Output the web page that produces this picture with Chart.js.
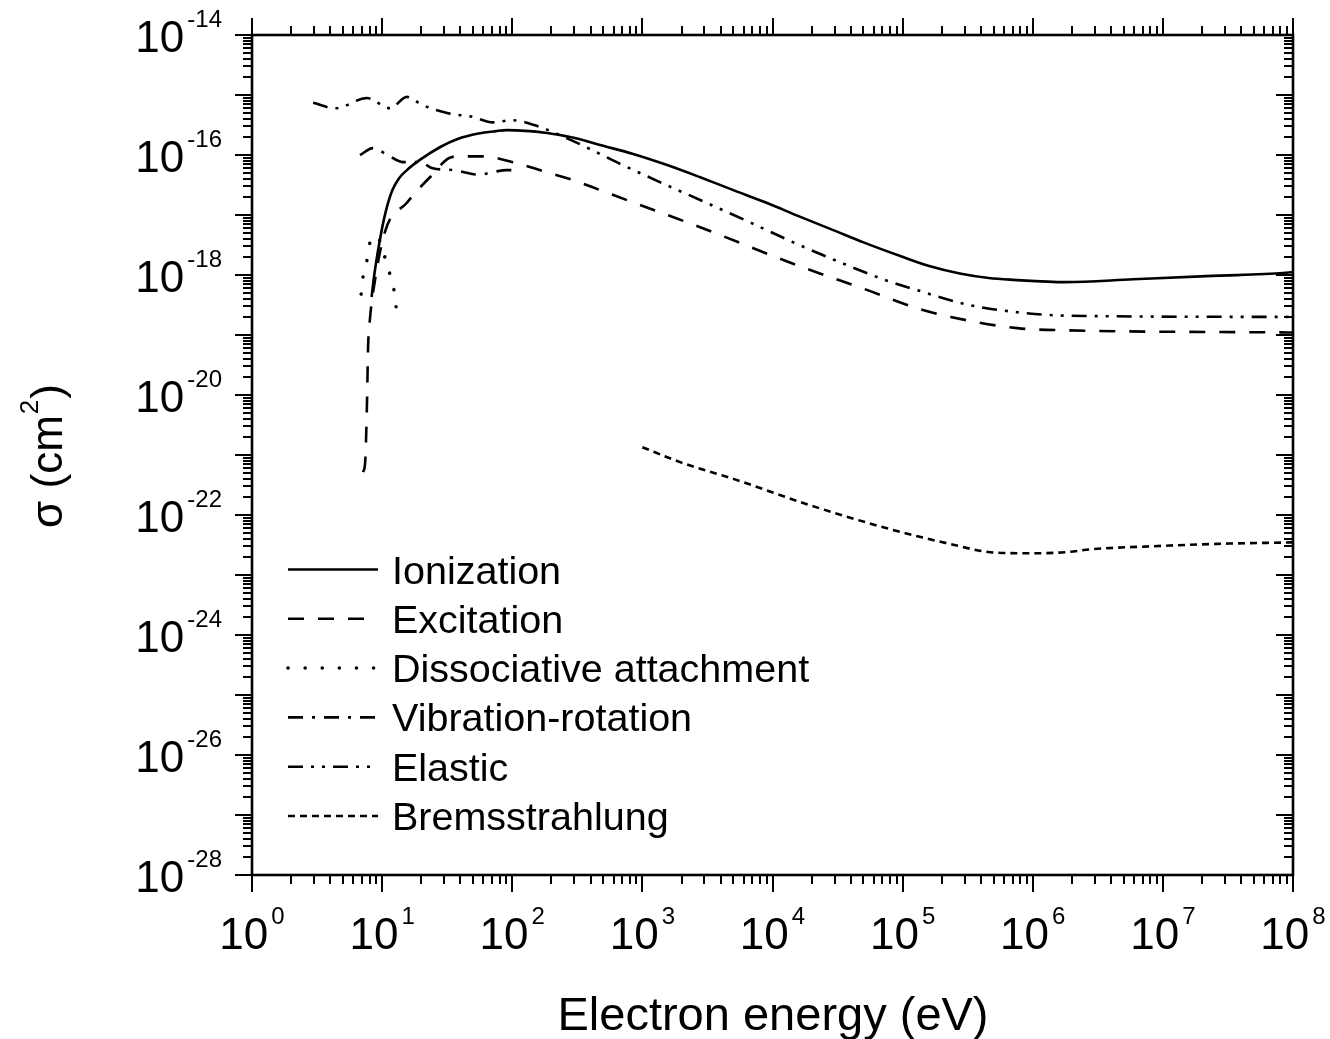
<!DOCTYPE html>
<html>
<head>
<meta charset="utf-8">
<title>Electron cross sections</title>
<script src="https://cdn.jsdelivr.net/npm/chart.js@4.4.1/dist/chart.umd.min.js"></script>
<style>
  html, body { margin: 0; padding: 0; background: #fff; }
  #wrap { width: 1330px; height: 1039px; position: relative; }
</style>
</head>
<body>
<div id="wrap"><canvas id="xs"></canvas></div>
<script>
// energies in eV, cross sections in cm^2
const ionEnergy = [8.3, 8.6, 9.0, 9.6, 10.3, 11.0, 12.0, 13.5, 15.5, 20, 28, 38, 55, 75, 91, 185, 303, 473, 850, 1550, 2750, 5000, 9100, 16200, 29300, 50000, 96000, 1.6e5, 2.75e5, 4.6e5, 7.1e5, 1.8e6, 5.9e6, 1.95e7, 7.9e7, 1e8];
const ionSigma  = [4.3e-19, 8.3e-19, 1.65e-18, 3.8e-18, 8.3e-18, 1.47e-17, 2.6e-17, 4.1e-17, 5.6e-17, 8.6e-17, 1.36e-16, 1.85e-16, 2.28e-16, 2.5e-16, 2.6e-16, 2.33e-16, 1.92e-16, 1.47e-16, 1.04e-16, 6.8e-17, 4.3e-17, 2.6e-17, 1.58e-17, 9.4e-18, 5.6e-18, 3.5e-18, 2.07e-18, 1.41e-18, 1.06e-18, 8.9e-19, 8.3e-19, 7.6e-19, 8.5e-19, 9.5e-19, 1.07e-18, 1.12e-18];

const excEnergy = [7.13, 7.4, 7.65, 7.8, 8.07, 8.36, 10.5, 15.5, 23.4, 35, 60, 101, 162, 295, 473, 800, 2750, 16200, 53700, 1.29e5, 2.34e5, 7.6e5, 1.8e6, 1e8];
const excSigma  = [5.2e-22, 7.4e-22, 7.4e-21, 6.3e-20, 1.9e-19, 3.8e-19, 5.2e-18, 1.6e-17, 4.3e-17, 9.3e-17, 9.5e-17, 7.6e-17, 5.6e-17, 3.8e-17, 2.6e-17, 1.7e-17, 6.3e-18, 1.4e-18, 5.6e-19, 2.8e-19, 2.0e-19, 1.3e-19, 1.2e-19, 1.1e-19];

const attEnergy = [6.9, 7.13, 7.66, 8.07, 9.0, 10.9, 11.9, 12.6, 13.0];
const attSigma  = [4.8e-19, 9.3e-19, 1.8e-18, 3.5e-18, 4.5e-18, 1.5e-18, 7.6e-19, 4.2e-19, 2.0e-19];

const vibEnergy = [6.76, 8.5, 11, 14.5, 19.5, 24.5, 35, 56, 71, 91, 105];
const vibSigma  = [1.0e-16, 1.3e-16, 1.0e-16, 7.6e-17, 7.6e-17, 6.0e-17, 5.6e-17, 4.7e-17, 5.2e-17, 5.6e-17, 5.6e-17];

const elaEnergy = [2.95, 4.37, 7.65, 11.5, 15.5, 20.4, 31.6, 50, 71, 100, 145, 295, 490, 650, 1420, 3100, 6840, 14900, 32400, 70800, 1.29e5, 3.16e5, 7.6e5, 1.8e6, 1e8];
const elaSigma  = [7.4e-16, 6.0e-16, 8.9e-16, 6.0e-16, 9.3e-16, 6.8e-16, 5.0e-16, 4.3e-16, 3.5e-16, 3.8e-16, 3.2e-16, 1.7e-16, 1.0e-16, 7.4e-17, 3.4e-17, 1.6e-17, 7.4e-18, 3.4e-18, 1.66e-18, 8.5e-19, 5.6e-19, 3.2e-19, 2.4e-19, 2.1e-19, 2.0e-19];

const bremEnergy = [1000, 1950, 5000, 18600, 76000, 2.45e5, 4.7e5, 9.5e5, 1.8e6, 2.9e6, 7.9e6, 2.6e7, 1e8];
const bremSigma  = [1.35e-21, 7.6e-22, 4.0e-22, 1.5e-22, 6.0e-23, 3.2e-23, 2.4e-23, 2.3e-23, 2.4e-23, 2.7e-23, 3.0e-23, 3.3e-23, 3.5e-23];

const xTickExponents = [0, 1, 2, 3, 4, 5, 6, 7, 8];
const yTickExponents = [-14, -16, -18, -20, -22, -24, -26, -28];

const FONT = '"Liberation Sans", Arial, Helvetica, sans-serif';

function pts(xs, ys) {
  return xs.map((x, i) => ({ x, y: ys[i] }));
}

function series(label, xs, ys, dash, cap) {
  return {
    label,
    data: pts(xs, ys),
    showLine: true,
    borderColor: '#000',
    backgroundColor: '#000',
    borderWidth: cap === 'round' ? 3.5 : 2.6,
    borderDash: dash,
    borderCapStyle: cap || 'butt',
    pointRadius: 0,
    cubicInterpolationMode: 'monotone',
    fill: false,
  };
}

// superscript power-of-ten label, e.g. 10^-16
function drawPower(ctx, exp, x, baseY, align) {
  const base = '10';
  const sup = String(exp);
  ctx.font = '44px ' + FONT;
  const bw = ctx.measureText(base).width;
  ctx.font = '24px ' + FONT;
  const sw = ctx.measureText(sup).width;
  const gap = 3;
  const total = bw + gap + sw;
  const left = align === 'right' ? x - total : x - total / 2;
  ctx.textAlign = 'left';
  ctx.textBaseline = 'alphabetic';
  ctx.font = '44px ' + FONT;
  ctx.fillText(base, left, baseY);
  ctx.font = '24px ' + FONT;
  ctx.fillText(sup, left + bw + gap, baseY - 25);
}

const framePlugin = {
  id: 'frame',
  afterDatasetsDraw(chart) {
    const { ctx, chartArea: a, scales: { x, y } } = chart;
    ctx.save();
    ctx.strokeStyle = '#000';
    ctx.fillStyle = '#000';
    ctx.lineWidth = 2.6;
    ctx.setLineDash([]);
    ctx.strokeRect(a.left, a.top, a.width, a.height);

    // x ticks: out on bottom, up on top
    ctx.lineWidth = 2;
    ctx.beginPath();
    for (let e = 0; e <= 8; e++) {
      for (let m = 1; m <= 9; m++) {
        if (e === 8 && m > 1) break;
        const px = Math.round(x.getPixelForValue(m * Math.pow(10, e)));
        const len = m === 1 ? 17 : 9;
        ctx.moveTo(px, a.bottom); ctx.lineTo(px, a.bottom + len);
        ctx.moveTo(px, a.top); ctx.lineTo(px, a.top - len);
      }
    }
    // y ticks: out on left, in on right
    for (let e = -28; e <= -14; e++) {
      for (let m = 1; m <= 9; m++) {
        if (e === -14 && m > 1) break;
        const py = Math.round(y.getPixelForValue(m * Math.pow(10, e)));
        const len = m === 1 ? 17 : 9;
        ctx.moveTo(a.left - len, py); ctx.lineTo(a.left, py);
        ctx.moveTo(a.right - len, py); ctx.lineTo(a.right, py);
      }
    }
    ctx.stroke();

    xTickExponents.forEach(e => {
      drawPower(ctx, e, x.getPixelForValue(Math.pow(10, e)), a.bottom + 74, 'center');
    });
    yTickExponents.forEach(e => {
      drawPower(ctx, e, a.left - 30, y.getPixelForValue(Math.pow(10, e)) + 17, 'right');
    });

    // axis titles
    ctx.font = '47px ' + FONT;
    ctx.textAlign = 'center';
    ctx.textBaseline = 'alphabetic';
    ctx.fillText('Electron energy (eV)', 773, 1030);

    ctx.save();
    ctx.translate(62, 457);
    ctx.rotate(-Math.PI / 2);
    const t1 = '\u03C3 (cm';
    const t2 = ')';
    ctx.font = '44px ' + FONT;
    const w1 = ctx.measureText(t1).width;
    const w3 = ctx.measureText(t2).width;
    ctx.font = '26px ' + FONT;
    const w2 = ctx.measureText('2').width;
    const start = -(w1 + w2 + w3) / 2;
    ctx.textAlign = 'left';
    ctx.font = '44px ' + FONT;
    ctx.fillText(t1, start, 0);
    ctx.font = '26px ' + FONT;
    ctx.fillText('2', start + w1 + 1, -24);
    ctx.font = '44px ' + FONT;
    ctx.fillText(t2, start + w1 + w2 + 2, 0);
    ctx.restore();

    // legend
    chart.data.datasets.forEach((ds, i) => {
      const ly = 569.5 + i * 49.3;
      ctx.beginPath();
      ctx.lineWidth = ds.borderWidth;
      ctx.lineCap = ds.borderCapStyle;
      ctx.setLineDash(ds.borderDash || []);
      ctx.moveTo(288, ly);
      ctx.lineTo(378, ly);
      ctx.stroke();
      ctx.setLineDash([]);
      ctx.font = '39.5px ' + FONT;
      ctx.textAlign = 'left';
      ctx.fillText(ds.label, 392, ly + 14);
    });
    ctx.restore();
  }
};

new Chart(document.getElementById('xs'), {
  type: 'scatter',
  data: {
    datasets: [
      series('Ionization', ionEnergy, ionSigma, []),
      series('Excitation', excEnergy, excSigma, [16, 14]),
      series('Dissociative attachment', attEnergy, attSigma, [0.1, 17], 'round'),
      series('Vibration-rotation', vibEnergy, vibSigma, [15, 9, 3, 9]),
      series('Elastic', elaEnergy, elaSigma, [15, 8, 3, 8, 3, 8]),
      series('Bremsstrahlung', bremEnergy, bremSigma, [7, 5]),
    ],
  },
  options: {
    responsive: true,
    maintainAspectRatio: false,
    animation: false,
    layout: { padding: { left: 252, top: 35, right: 37, bottom: 164 } },
    plugins: {
      legend: { display: false },
      tooltip: { enabled: false },
    },
    scales: {
      x: { type: 'logarithmic', min: 1, max: 1e8, display: false },
      y: { type: 'logarithmic', min: 1e-28, max: 1e-14, display: false },
    },
  },
  plugins: [framePlugin],
});
</script>
</body>
</html>
